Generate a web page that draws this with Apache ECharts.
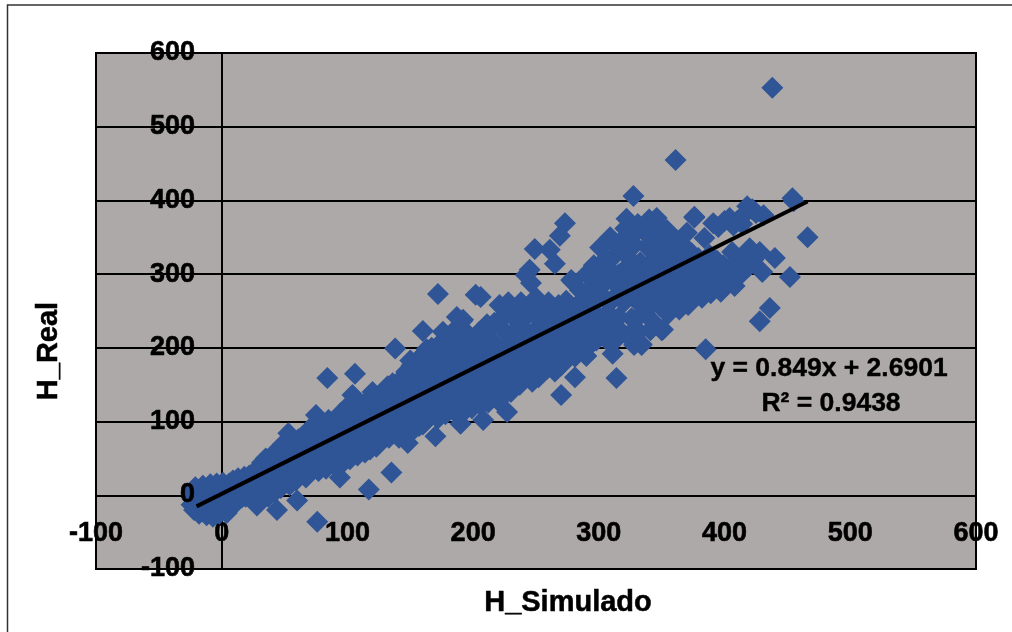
<!DOCTYPE html>
<html><head><meta charset="utf-8">
<style>html,body{margin:0;padding:0;background:#fff}#c{width:1012px;height:632px}</style>
<script src="https://cdn.jsdelivr.net/npm/echarts@6/dist/echarts.min.js"></script>
</head><body><div id="c"></div>
<script>
const axisTicks=[-100,0,100,200,300,400,500,600];
const xName="H_Simulado", yName="H_Real";
const equationLines=["y = 0.849x + 2.6901","R² = 0.9438"];
const trendLine=[[-20,-15],[466,398.5]];
const clusterA=[[-24,-13],[-24,3],[-22,-20],[-21,11],[-20,-6],[-18,-25],[-17,7],[-16,-12],[-15,13],[-14,-3],[-12,-27],[-11,8],[-10,-17],[-9,15],[-8,-6],[-7,-29],[-6,4],[-5,-20],[-4,16],[-3,-11],[-2,-25],[-1,9],[0,-3],[1,17],[2,-18],[3,5],[4,-24],[5,-9],[6,16],[7,2],[8,-14],[9,20],[10,-5],[11,9],[12,-9],[13,23],[14,0],[15,13],[16,-3],[17,6],[18,25],[19,-2],[20,15],[21,5],[22,27],[23,9],[24,-1],[25,20],[26,32],[27,3],[28,14],[29,36],[30,7],[31,25],[32,44],[33,0],[34,18],[35,50],[36,31],[37,-2],[38,10],[39,41],[40,24],[41,56],[42,4],[43,35],[44,16],[45,62],[46,46],[47,10],[48,28],[49,70],[50,56],[51,18],[52,38],[53,84],[54,14],[55,48],[56,72],[57,28],[58,60],[59,20],[60,42]];
const clusterB=[[61,76],[62,27],[63,54],[64,34],[65,81],[66,66],[67,24],[68,45],[69,88],[70,32],[71,57],[72,73],[73,38],[74,97],[75,109],[76,50],[77,33],[78,84],[79,64],[80,41],[81,94],[82,54],[83,36],[84,74],[85,102],[86,46],[87,62],[88,86],[89,42],[90,53],[91,100],[92,72],[93,47],[94,60],[95,112],[96,84],[97,45],[98,56],[99,96],[100,68],[101,122],[102,49],[103,80],[104,136],[105,58],[106,108],[107,90],[108,54],[109,70],[110,125],[111,62],[112,98],[113,82],[114,58],[115,112],[116,72],[117,130],[118,62],[119,92],[120,140],[121,76],[122,106],[123,66],[124,86],[125,120],[126,72],[127,98],[128,135],[129,80],[130,110]];
const clusterC=[[131,90],[132,148],[133,78],[134,125],[135,100],[136,152],[137,84],[138,112],[139,136],[140,92],[141,78],[142,122],[143,158],[144,102],[145,140],[146,85],[147,168],[148,114],[149,96],[150,130],[151,176],[152,88],[153,148],[154,106],[155,122],[156,184],[157,94],[158,160],[159,136],[160,112],[161,192],[162,100],[163,172],[164,126],[165,148],[166,108],[167,200],[168,136],[169,182],[170,116],[171,160],[172,104],[173,205],[174,146],[175,124],[176,188],[177,168],[178,110],[179,214],[180,134],[181,152],[182,118],[183,196],[184,222],[185,176],[186,112],[187,142],[188,160],[189,206],[190,124],[191,236],[192,184],[193,114],[194,150],[195,220],[196,134],[197,170],[198,198],[199,118],[200,156],[201,212],[202,126],[203,180],[204,142],[205,222],[206,122],[207,166],[208,198],[209,134],[210,150],[211,232],[212,126],[213,184],[214,168],[215,210],[216,138],[217,234],[218,154],[219,196],[220,128],[221,258],[222,174]];
const clusterD=[[223,226],[224,142],[225,244],[226,160],[227,204],[228,262],[229,186],[230,140],[231,218],[232,250],[233,170],[234,152],[235,236],[236,196],[237,150],[238,262],[239,178],[240,226],[241,158],[242,208],[243,244],[244,164],[245,190],[246,252],[247,154],[248,222],[249,176],[250,268],[251,202],[252,160],[253,238],[254,182],[255,166],[256,254],[257,214],[258,192],[259,172],[260,262],[261,228],[262,176],[263,200],[264,246],[265,168],[266,216],[267,184],[268,258],[269,194],[270,176],[271,236],[272,208],[273,182],[274,264],[275,222],[276,190],[277,250],[278,200],[279,290],[280,234],[281,188],[282,214],[283,258],[284,196],[285,278],[286,226],[287,244],[288,200],[289,268],[290,300],[291,216],[292,248],[293,204],[294,282],[295,232],[296,312],[297,262],[298,210],[299,296],[300,242]];
const clusterE=[[301,336],[302,218],[303,270],[304,318],[305,226],[306,290],[307,248],[308,208],[309,350],[310,304],[311,232],[312,268],[313,326],[314,212],[315,284],[316,242],[317,344],[318,222],[319,304],[320,262],[321,362],[322,375],[323,216],[324,284],[325,334],[326,240],[327,352],[328,204],[329,300],[330,264],[331,368],[332,222],[333,316],[334,204],[335,282],[336,358],[337,246],[338,338],[339,302],[340,374],[341,224],[342,270],[343,352],[344,320],[345,232],[346,376],[347,290],[348,342],[349,256],[350,224],[351,360],[352,306],[353,272],[354,360],[355,246],[356,330],[357,290],[358,326],[359,258],[360,314],[361,270],[362,346],[363,284],[364,252],[365,318],[366,298],[367,268],[368,338],[369,284],[370,356],[371,258],[372,306],[373,276],[374,328],[375,292],[376,377],[377,270],[378,312],[379,322],[380,282],[381,300],[382,268],[384,349],[385,310],[386,284],[388,326],[389,274],[391,369],[392,300],[393,284],[394,318],[396,294],[397,276],[399,312],[400,372],[402,290],[404,376],[405,308],[406,330],[408,284],[410,372],[411,316],[413,300],[415,380],[416,326],[418,392],[419,310],[420,335],[422,388],[423,320],[425,383],[428,330],[431,380],[414,368],[395,364],[407,366]];
const clusterFill=[[322,290],[328,270],[333,245],[338,285],[344,262],[348,300],[354,290],[340,310],[326,318],[318,280],[331,290],[346,318],[356,268],[335,262],[309,262],[300,300],[312,340],[320,330],[328,340],[350,340],[306,320],[316,300]];
const outliers=[[438,553],[361,455],[327.5,406],[454,403],[455,399],[466,350],[273,369],[269,352],[249,334],[261,333],[265,314],[245,306],[242,299],[246,288],[278,292],[376,378],[440,322],[452,296],[430,303],[436,254],[428,236],[385,198],[314,159],[281,160],[270,136],[351,225],[334,205],[311,192],[290,189],[84,159],[106,165],[138,199],[160,223],[135,31],[117,8],[94,24],[170,80],[208,102],[28,-14],[44,-20],[60,-7],[76,-36],[148,71],[190,97],[160,96],[172,273],[187,242],[192,238],[202,272],[206,269],[176,222],[163,198],[150,183],[147,167],[227,113]];

const points=[...clusterA,...clusterB,...clusterC,...clusterD,...clusterE,...clusterFill,...outliers];
const FONT='"Liberation Sans", Arial, sans-serif';
const chart=echarts.init(document.getElementById('c'),null,{renderer:'canvas'});
const labelStyle={color:'#000',fontFamily:FONT,fontWeight:'bold',fontSize:27,textBorderColor:'#000',textBorderWidth:0.6,showMinLabel:true,showMaxLabel:true,hideOverlap:false};
const axisBase={type:'value',min:axisTicks[0],max:axisTicks[axisTicks.length-1],interval:100,
  axisLine:{show:true,onZero:true,lineStyle:{color:'#000',width:2}},
  axisTick:{show:false}};
const titleStyle={fontFamily:FONT,fontWeight:'bold',fontSize:29,fill:'#000',stroke:'#000',lineWidth:0.5,textAlign:'center',textVerticalAlign:'middle'};
const eqStyle=Object.assign({},titleStyle,{fontSize:26.5,lineWidth:0.4});
chart.setOption({
  animation:false,backgroundColor:'#fff',
  grid:{left:96,right:36,top:53,bottom:63,show:true,backgroundColor:'#ADA9A8',borderColor:'#000',borderWidth:2},
  xAxis:Object.assign({},axisBase,{splitLine:{show:false},axisLabel:Object.assign({},labelStyle,{margin:-49})}),
  yAxis:Object.assign({},axisBase,{splitLine:{show:true,lineStyle:{color:'#000',width:2}},
    axisLabel:Object.assign({},labelStyle,{margin:-99,formatter:v=>v===0?'':String(v)})}),
  series:[
    {type:'scatter',data:points,symbol:'diamond',symbolSize:22,itemStyle:{color:'#2F5597',opacity:1},z:3},
    {type:'line',data:trendLine,showSymbol:false,symbol:'none',lineStyle:{color:'#000',width:4},z:4}
  ],
  graphic:[
    {type:'rect',z:-1,silent:true,shape:{x:7.5,y:5,width:1100,height:700},style:{fill:'none',stroke:'#333',lineWidth:1.5}},
    {type:'text',z:10,x:195,y:495,style:Object.assign({},titleStyle,{text:'0',fontSize:27,lineWidth:0.6,textAlign:'right'})},
    {type:'text',z:10,x:568,y:603,style:Object.assign({},titleStyle,{text:xName})},
    {type:'text',z:10,x:49,y:351,rotation:Math.PI/2,style:Object.assign({},titleStyle,{text:yName})},
    {type:'text',z:10,x:829,y:369,style:Object.assign({},eqStyle,{text:equationLines[0]})},
    {type:'text',z:10,x:831,y:404,style:Object.assign({},eqStyle,{text:equationLines[1]})}
  ]
});
</script></body></html>
